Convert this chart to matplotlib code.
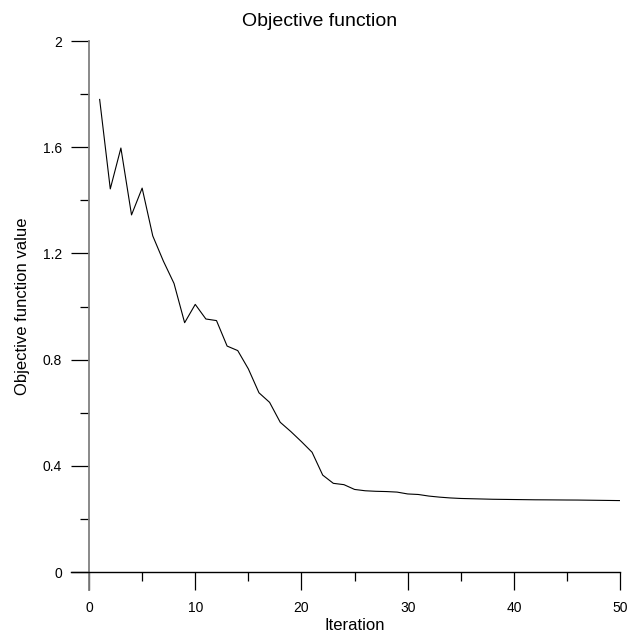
import numpy as np
import matplotlib.pyplot as plt
from matplotlib.ticker import MultipleLocator

plt.rcParams['font.family'] = ['Liberation Sans', 'DejaVu Sans']

# Valeurs (iterations 1..50)
iterations = np.arange(1, 51)
objective = [1.780, 1.443, 1.597, 1.345, 1.446, 1.266, 1.171, 1.087, 0.939, 1.008,
             0.953, 0.947, 0.851, 0.834, 0.765, 0.675, 0.639, 0.564, 0.529, 0.491,
             0.451, 0.365, 0.334, 0.329, 0.311, 0.306, 0.304, 0.303, 0.301, 0.294,
             0.292, 0.286, 0.282, 0.279, 0.277, 0.276, 0.275, 0.274, 0.2735, 0.273,
             0.2725, 0.272, 0.2718, 0.2715, 0.2712, 0.271, 0.2705, 0.270, 0.2695, 0.269]
x_ticks = [0, 10, 20, 30, 40, 50]
y_ticks = [0, 0.4, 0.8, 1.2, 1.6, 2]
y_tick_labels = ['0', '0.4', '0.8', '1.2', '1.6', '2']

fig = plt.figure(figsize=(6.27, 6.35), dpi=100)
ax = fig.add_axes([0.142, 0.0992, 0.847, 0.8362])

ax.plot(iterations, objective, color='black', linewidth=0.8)

ax.set_xlim(0, 50)
ax.set_ylim(0, 2)
ax.set_xticks(x_ticks)
ax.set_yticks(y_ticks)
ax.set_yticklabels(y_tick_labels)
ax.xaxis.set_minor_locator(MultipleLocator(5))
ax.yaxis.set_minor_locator(MultipleLocator(0.2))

ax.tick_params(which='major', direction='out', length=13, width=0.9, color='black',
               labelsize=10, pad=6.5)
ax.tick_params(axis='x', which='major', pad=8)
ax.tick_params(which='minor', direction='out', length=6.5, width=0.9, color='black')

for side in ['top', 'right']:
    ax.spines[side].set_visible(False)
ax.spines['left'].set_color('#808080')
ax.spines['left'].set_linewidth(1.3)
ax.spines['left'].set_bounds(-0.068, 2)
ax.spines['bottom'].set_color('black')
ax.spines['bottom'].set_linewidth(1.0)
ax.spines['bottom'].set_bounds(-1.7, 50)

ax.set_xlabel('Iteration', fontsize=12, labelpad=2)
ax.set_ylabel('Objective function value', fontsize=12, labelpad=9)

# le titre est centre sur la figure, pas sur les axes
fig.text(0.509, 0.959, 'Objective function', fontsize=14, ha='center', va='baseline')

plt.savefig('out.png', dpi=100)
